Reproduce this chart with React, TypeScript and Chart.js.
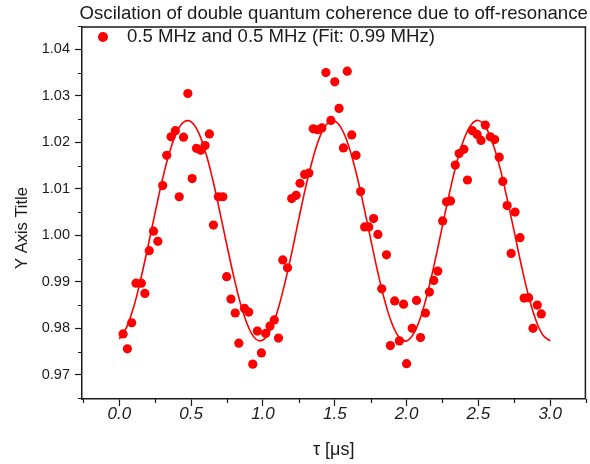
import React, { useEffect, useRef } from 'react';
import { Chart, registerables } from 'chart.js';

Chart.register(...registerables);

const titleText = 'Oscilation of double quantum coherence due to off-resonance';
const legendLabel = '0.5 MHz and 0.5 MHz (Fit: 0.99 MHz)';
const xAxisTitle = 'τ [μs]';
const yAxisTitle = 'Y Axis Title';

const dataX = [
  0.026, 0.056, 0.086, 0.116, 0.153, 0.178, 0.208, 0.238, 0.268, 0.302,
  0.33, 0.36, 0.39, 0.417, 0.447, 0.477, 0.507, 0.537, 0.567, 0.597,
  0.627, 0.655, 0.689, 0.721, 0.747, 0.777, 0.807, 0.832, 0.871, 0.901,
  0.929, 0.961, 0.989, 1.019, 1.049, 1.079, 1.108, 1.138, 1.171, 1.2,
  1.231, 1.258, 1.29, 1.32, 1.35, 1.38, 1.41, 1.438, 1.473, 1.5,
  1.53, 1.56, 1.587, 1.618, 1.648, 1.68, 1.708, 1.737, 1.77, 1.8,
  1.827, 1.86, 1.887, 1.917, 1.95, 1.979, 2.0, 2.039, 2.069, 2.097,
  2.131, 2.159, 2.189, 2.217, 2.251, 2.278, 2.306, 2.339, 2.366, 2.399,
  2.424, 2.458, 2.491, 2.518, 2.548, 2.583, 2.613, 2.645, 2.67, 2.7,
  2.728, 2.755, 2.79, 2.818, 2.85, 2.88, 2.91, 2.938,
];
const dataY = [
  0.9788, 0.9756, 0.9812, 0.9897, 0.9897, 0.9875, 0.9967, 1.0009, 0.9987, 1.0107,
  1.0172, 1.0212, 1.0225, 1.0083, 1.0211, 1.0305, 1.0122, 1.0187, 1.0183, 1.0193,
  1.0218, 1.0022, 1.0083, 1.0083, 0.9911, 0.9863, 0.9833, 0.9768, 0.9843, 0.9835,
  0.9723, 0.9794, 0.9747, 0.9789, 0.9805, 0.9818, 0.9779, 0.9947, 0.993, 1.0079,
  1.0086, 1.0112, 1.0131, 1.0134, 1.0229, 1.0227, 1.0231, 1.035, 1.0247, 1.033,
  1.0273, 1.0188, 1.0353, 1.0216, 1.0172, 1.0094, 1.0018, 1.0018, 1.0036, 1.0002,
  0.9885, 0.9958, 0.9763, 0.9859, 0.9773, 0.9852, 0.9724, 0.98, 0.986, 0.978,
  0.9833, 0.9878, 0.9903, 0.9923, 1.0031, 1.0072, 1.0074, 1.0151, 1.0176, 1.0185,
  1.0119, 1.0225, 1.0217, 1.0204, 1.0237, 1.0212, 1.0206, 1.0168, 1.0116, 1.0064,
  0.9961, 1.005, 0.9995, 0.9865, 0.9866, 0.98, 0.985, 0.9831,
];

const fitX = [
  0.0, 0.05, 0.1, 0.15, 0.2, 0.25, 0.3, 0.35, 0.4, 0.45,
  0.5, 0.55, 0.6, 0.65, 0.7, 0.75, 0.8, 0.85, 0.9, 0.95,
  1.0, 1.05, 1.1, 1.15, 1.2, 1.25, 1.3, 1.35, 1.4, 1.45,
  1.5, 1.55, 1.6, 1.65, 1.7, 1.75, 1.8, 1.85, 1.9, 1.95,
  2.0, 2.05, 2.1, 2.15, 2.2, 2.25, 2.3, 2.35, 2.4, 2.45,
  2.5, 2.55, 2.6, 2.65, 2.7, 2.75, 2.8, 2.85, 2.9, 2.95, 3.0,
];
const fitY = [
  0.9777, 0.9802, 0.9846, 0.9907, 0.9977, 1.005, 1.012, 1.0179, 1.0222, 1.0244,
  1.0244, 1.0222, 1.0179, 1.012, 1.005, 0.9977, 0.9907, 0.9846, 0.9802, 0.9777,
  0.9775, 0.9795, 0.9836, 0.9894, 0.9962, 1.0036, 1.0107, 1.0168, 1.0215, 1.0241,
  1.0246, 1.0228, 1.0189, 1.0133, 1.0065, 0.9992, 0.992, 0.9857, 0.9809, 0.978,
  0.9773, 0.9789, 0.9826, 0.9881, 0.9948, 1.0021, 1.0093, 1.0157, 1.0207, 1.0238,
  1.0247, 1.0233, 1.0198, 1.0145, 1.0079, 1.0007, 0.9934, 0.9869, 0.9818, 0.9785, 0.9773,
];

const xMajorTicks = [0, 0.5, 1.0, 1.5, 2.0, 2.5, 3.0];
const xMinorTicks = [-0.25, 0.25, 0.75, 1.25, 1.75, 2.25, 2.75, 3.25];
const yMajorTicks = [0.97, 0.98, 0.99, 1.0, 1.01, 1.02, 1.03, 1.04];
const yMinorTicks = [0.965, 0.975, 0.985, 0.995, 1.005, 1.015, 1.025, 1.035, 1.045];

const FONT = '"Liberation Sans", Arial, Helvetica, sans-serif';
const INK = '#1a1a1a';
const RED = '#ff0000';

const decorPlugin = {
  id: 'decor',
  afterDraw(chart: any) {
    const { ctx, chartArea, scales } = chart;
    const { left, right, top, bottom } = chartArea;
    const xs = scales.x;
    const ys = scales.y;
    ctx.save();
    // frame top & right
    ctx.strokeStyle = INK;
    ctx.lineWidth = 1.5;
    ctx.beginPath();
    ctx.moveTo(left, top);
    ctx.lineTo(right, top);
    ctx.lineTo(right, bottom);
    ctx.stroke();
    // minor ticks
    ctx.lineWidth = 1.2;
    ctx.beginPath();
    for (const v of xMinorTicks) {
      const px = Math.round(xs.getPixelForValue(v)) + 0.5;
      ctx.moveTo(px, bottom);
      ctx.lineTo(px, bottom + 4);
    }
    for (const v of yMinorTicks) {
      const py = Math.round(ys.getPixelForValue(v)) + 0.5;
      ctx.moveTo(left, py);
      ctx.lineTo(left - 4, py);
    }
    ctx.stroke();
    // title
    ctx.fillStyle = INK;
    ctx.textAlign = 'center';
    ctx.textBaseline = 'middle';
    ctx.font = `18.6px ${FONT}`;
    ctx.fillText(titleText, (left + right) / 2, 14);
    // legend
    ctx.fillStyle = RED;
    ctx.beginPath();
    ctx.arc(left + 21, top + 10, 5, 0, Math.PI * 2);
    ctx.fill();
    ctx.fillStyle = INK;
    ctx.textAlign = 'left';
    ctx.font = `18.6px ${FONT}`;
    ctx.fillText(legendLabel, left + 45, top + 10);
    // axis titles
    ctx.textAlign = 'center';
    ctx.font = `18px ${FONT}`;
    ctx.fillText(xAxisTitle, (left + right) / 2, 450);
    ctx.save();
    ctx.translate(22, 228);
    ctx.rotate(-Math.PI / 2);
    ctx.font = `16.5px ${FONT}`;
    ctx.fillText(yAxisTitle, 0, 0);
    ctx.restore();
    ctx.restore();
  },
};

export default function App() {
  const canvasRef = useRef<HTMLCanvasElement | null>(null);

  useEffect(() => {
    document.body.style.margin = '0';
    const canvas = canvasRef.current;
    if (!canvas) return;
    const chart = new Chart(canvas, {
      type: 'scatter',
      data: {
        datasets: [
          {
            label: legendLabel,
            data: dataX.map((x, i) => ({ x, y: dataY[i] })),
            backgroundColor: RED,
            borderColor: RED,
            pointRadius: 4.6,
            pointHoverRadius: 4.6,
            borderWidth: 0,
          },
          {
            label: 'fit',
            data: fitX.map((x, i) => ({ x, y: fitY[i] })),
            showLine: true,
            borderColor: RED,
            borderWidth: 1.6,
            pointRadius: 0,
            tension: 0.4,
            fill: false,
          } as any,
        ],
      },
      options: {
        animation: false,
        responsive: false,
        devicePixelRatio: 1,
        layout: { padding: { top: 27, right: 1, left: 0, bottom: 0 } },
        plugins: {
          legend: { display: false },
          title: { display: false },
          tooltip: { enabled: false },
        },
        scales: {
          x: {
            type: 'linear',
            min: -0.26,
            max: 3.245,
            afterFit: (s: any) => { s.height = 65; },
            afterBuildTicks: (s: any) => { s.ticks = xMajorTicks.map((v) => ({ value: v })); },
            border: { display: true, color: INK, width: 1.5 },
            grid: { display: true, drawOnChartArea: false, drawTicks: true, tickLength: 7, tickColor: INK, tickWidth: 1.2 },
            ticks: {
              color: INK,
              padding: -2,
              maxRotation: 0,
              font: { family: FONT, size: 17, style: 'italic' },
              callback: (v: any) => Number(v).toFixed(1),
            },
          },
          y: {
            type: 'linear',
            min: 0.9648,
            max: 1.0448,
            afterFit: (s: any) => { s.width = 82; },
            afterBuildTicks: (s: any) => { s.ticks = yMajorTicks.map((v) => ({ value: v })); },
            border: { display: true, color: INK, width: 1.5 },
            grid: { display: true, drawOnChartArea: false, drawTicks: true, tickLength: 7, tickColor: INK, tickWidth: 1.2 },
            ticks: {
              color: INK,
              padding: 5,
              font: { family: FONT, size: 14.5 },
              callback: (v: any) => Number(v).toFixed(2),
            },
          },
        },
      },
      plugins: [decorPlugin],
    } as any);
    return () => chart.destroy();
  }, []);

  return (
    <div style={{ width: 590, height: 464 }}>
      <canvas ref={canvasRef} width={590} height={464} style={{ display: 'block' }} />
    </div>
  );
}
